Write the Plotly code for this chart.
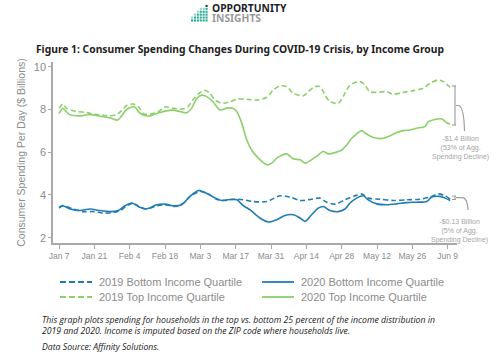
import pandas as pd
import plotly.graph_objects as go

# ---------------- data (values in $ billions; x = days since Jan 7, 2020) ----------------
start_date = "2020-01-07"

days_top_2020 = [0, 1.5, 4, 9, 12, 14, 18, 20.5, 23, 24.5, 26.5, 28, 30, 31.5, 33.5, 36, 38.5, 42, 45, 48,
                 50.5, 52.5, 54.5, 56.5, 58.5, 61, 63.8, 66.4, 69, 70.4, 72.4, 74.4, 76.3, 79, 82.3, 84.3,
                 86.3, 90.2, 92.8, 95.5, 97.5, 100, 102, 104.7, 106.7, 109.4, 112, 114, 116, 118, 120, 121,
                 123.2, 125.9, 128.5, 131, 133.8, 136.4, 139, 141.7, 145, 146.3, 148.3, 151.6, 153.6, 155]
top_2020 = [7.81, 8.05, 7.77, 7.70, 7.77, 7.73, 7.65, 7.60, 7.50, 7.65, 7.97, 8.08, 8.12, 7.90, 7.73, 7.70,
            7.80, 7.92, 7.97, 7.90, 7.84, 8.05, 8.50, 8.67, 8.60, 8.36, 7.98, 8.06, 8.06, 7.90, 7.36, 6.57,
            6.10, 5.72, 5.41, 5.49, 5.72, 5.92, 5.69, 5.64, 5.49, 5.64, 5.80, 6.03, 5.92, 5.98, 6.10, 6.34,
            6.65, 6.86, 7.01, 6.92, 6.76, 6.65, 6.65, 6.76, 6.92, 7.01, 7.04, 7.12, 7.20, 7.43, 7.51, 7.56,
            7.38, 7.32]

days_top_2019 = [0, 1.5, 3, 7, 11, 14, 17.5, 20, 23, 25, 27, 29.5, 31.5, 33.5, 36, 39.5, 42, 45.5, 49, 51,
                 53, 55.5, 57.5, 59.8, 61.8, 65, 67.7, 70.4, 74.4, 78.3, 82.3, 84.9, 87.6, 90.2, 92.8, 96.8,
                 98.8, 101, 103.4, 105.4, 107.4, 110.7, 112.6, 115.3, 119.3, 121.2, 123.2, 125.9, 129.8,
                 132.5, 136.4, 140.4, 144.3, 147, 150.3, 152.3, 155]
top_2019 = [8.05, 8.25, 8.05, 7.90, 7.86, 7.77, 7.73, 7.70, 7.77, 7.97, 8.20, 8.25, 8.12, 7.80, 7.77, 7.90,
            8.12, 8.05, 8.02, 8.12, 8.44, 8.75, 8.90, 8.76, 8.44, 8.29, 8.36, 8.48, 8.48, 8.44, 8.57, 8.91,
            9.10, 9.07, 8.76, 8.64, 8.83, 9.05, 9.07, 8.68, 8.36, 8.29, 8.60, 9.14, 9.30, 9.14, 8.83, 8.80,
            8.83, 8.71, 8.80, 8.88, 8.99, 9.22, 9.38, 9.30, 9.04]

days_bottom_2020 = [0, 1.5, 4.4, 8.3, 12.3, 16.2, 20.2, 23.5, 26.1, 28.8, 31.4, 34.7, 38.7, 42, 45.3, 48.6,
                    51.9, 55.2, 57.8, 61.1, 64.5, 68.4, 70.5, 73, 75.7, 79.6, 82.9, 86.3, 89.5, 92.8, 95.5,
                    97.5, 100.1, 102.7, 104.7, 107.4, 110.7, 113.3, 115.3, 117.9, 120.6, 122.5, 125.9, 129.8,
                    133.8, 137.8, 141.7, 145.7, 147.7, 151, 153, 155]
bottom_2020 = [3.38, 3.49, 3.34, 3.27, 3.34, 3.27, 3.22, 3.27, 3.49, 3.62, 3.46, 3.35, 3.54, 3.57, 3.49, 3.54,
               3.93, 4.21, 4.11, 3.90, 3.74, 3.80, 3.77, 3.50, 3.30, 2.92, 2.73, 2.84, 3.04, 3.07, 2.92, 2.76,
               3.07, 3.38, 3.46, 3.27, 3.22, 3.34, 3.62, 3.85, 3.96, 3.77, 3.58, 3.54, 3.58, 3.64, 3.66, 3.69,
               3.90, 3.93, 3.85, 3.74]

days_bottom_2019 = [0, 1.5, 5.7, 9.6, 13.6, 17.6, 21.5, 24.2, 26.8, 29.4, 32.1, 34.7, 38.7, 42, 46, 49.3,
                    51.9, 55.9, 59.1, 62.4, 65.7, 69.7, 73, 77, 82.3, 87.6, 91.5, 95.5, 100.1, 103.4, 106.1,
                    109.4, 113.3, 117.3, 119.9, 122.5, 127.2, 132.5, 137.8, 143, 147, 150.3, 153, 155]
bottom_2019 = [3.42, 3.50, 3.34, 3.22, 3.22, 3.15, 3.18, 3.27, 3.49, 3.62, 3.42, 3.34, 3.49, 3.54, 3.46, 3.62,
               3.93, 4.16, 4.05, 3.80, 3.74, 3.80, 3.77, 3.69, 3.69, 3.96, 3.90, 3.74, 3.80, 3.85, 3.66, 3.57,
               3.77, 3.96, 4.05, 3.85, 3.80, 3.74, 3.77, 3.80, 3.90, 4.05, 3.96, 3.80]

tick_dates = ["2020-01-07", "2020-01-21", "2020-02-04", "2020-02-18", "2020-03-03", "2020-03-17",
              "2020-03-31", "2020-04-14", "2020-04-28", "2020-05-12", "2020-05-26", "2020-06-09"]
tick_labels = ["Jan 7", "Jan 21", "Feb 4", "Feb 18", "Mar 3", "Mar 17",
               "Mar 31", "Apr 14", "Apr 28", "May 12", "May 26", "Jun 9"]
y_ticks = [2, 4, 6, 8, 10]

series_names = ["2019 Bottom Income Quartile", "2020 Bottom Income Quartile",
                "2019 Top Income Quartile", "2020 Top Income Quartile"]

# ---------------- styling ----------------
GREEN = "#8BD06A"
BLUE = "#1F7DB4"
GREY_TXT = "#8c8c8c"
AXIS = "#a9a9a9"
SANS = "Liberation Sans, Arial, sans-serif"
W, H = 500, 355
ML, MR, MT, MB = 53, 43, 62, 112

t0 = pd.Timestamp(start_date)


def to_dates(days):
    return [t0 + pd.Timedelta(days=d) for d in days]


def px(x):  # pixel -> paper x
    return (x - ML) / (W - ML - MR)


def py(y):  # pixel -> paper y
    return (H - MB - y) / (H - MT - MB)


fig = go.Figure()
series = [
    (days_bottom_2019, bottom_2019, BLUE, "5px,3px", series_names[0]),
    (days_top_2019, top_2019, GREEN, "5px,3px", series_names[2]),
    (days_bottom_2020, bottom_2020, BLUE, "solid", series_names[1]),
    (days_top_2020, top_2020, GREEN, "solid", series_names[3]),
]
for d, v, c, dash, name in series:
    fig.add_trace(go.Scatter(x=to_dates(d), y=v, mode="lines", name=name,
                             line=dict(color=c, width=1.6, dash=dash, shape="spline", smoothing=0.8),
                             showlegend=False, hoverinfo="x+y"))

x_lo = t0 - pd.Timedelta(days=2.4)
x_hi = t0 + pd.Timedelta(days=157.7)

fig.update_layout(
    width=W, height=H, autosize=False,
    margin=dict(l=ML, r=MR, t=MT, b=MB),
    paper_bgcolor="white", plot_bgcolor="white",
    font=dict(family=SANS, color=GREY_TXT),
    xaxis=dict(range=[x_lo, x_hi], tickvals=pd.to_datetime(tick_dates), ticktext=tick_labels,
               showgrid=False, zeroline=False, showline=True, linecolor=AXIS, linewidth=1.5,
               ticks="outside", ticklen=4, tickcolor=AXIS, tickwidth=1,
               tickfont=dict(size=8.5, color=GREY_TXT, family=SANS)),
    yaxis=dict(range=[1.75, 10.22], tickvals=y_ticks, showgrid=False, zeroline=False,
               showline=True, linecolor=AXIS, linewidth=1.5, ticks="outside", ticklen=3,
               tickcolor=AXIS, tickfont=dict(size=11, color=GREY_TXT, family=SANS),
               title=dict(text="Consumer Spending Per Day ($ Billions)",
                          font=dict(size=10.5, color=GREY_TXT, family=SANS), standoff=6)),
    title=dict(text="<b>Figure 1: Consumer Spending Changes During COVID-19 Crisis, by Income Group</b>",
               x=240 / W, xanchor="center", y=1 - 49 / H, yanchor="middle",
               font=dict(size=10.3, color="#222222", family="Noto Sans, sans-serif")),
)

shapes = []
annots = []

# ---- legend (drawn manually, two columns) ----
legend_pos = [(60, 282), (262, 282), (60, 297), (262, 297)]
legend_style = [(BLUE, "6px,3px"), (BLUE, "solid"), (GREEN, "6px,3px"), (GREEN, "solid")]
for (lx, ly), (c, dash), name in zip(legend_pos, legend_style, series_names):
    shapes.append(dict(type="line", xref="paper", yref="paper", x0=px(lx), x1=px(lx + 32),
                       y0=py(ly), y1=py(ly), line=dict(color=c, width=1.8, dash=dash)))
    annots.append(dict(text=name, xref="paper", yref="paper", x=px(lx + 37), y=py(ly),
                       xanchor="left", yanchor="middle", showarrow=False,
                       font=dict(size=11, color=GREY_TXT, family=SANS)))

# ---- decline brackets ----
BR = "#a0a0a0"
shapes += [
    dict(type="line", xref="paper", yref="paper", x0=px(455), x1=px(455), y0=py(86), y1=py(125),
         line=dict(color=BR, width=1.2)),
    dict(type="line", xref="paper", yref="paper", x0=px(452), x1=px(456), y0=py(86), y1=py(86),
         line=dict(color=BR, width=1.2)),
    dict(type="line", xref="paper", yref="paper", x0=px(452), x1=px(456), y0=py(125), y1=py(125),
         line=dict(color=BR, width=1.2)),
    dict(type="path", xref="paper", yref="paper",
         path=f"M {px(456)},{py(105.5)} L {px(459)},{py(105.5)} Q {px(464)},{py(108)} {px(464.5)},{py(131)}",
         line=dict(color=BR, width=1.2)),
]
shapes += [
    dict(type="line", xref="paper", yref="paper", x0=px(455), x1=px(455), y0=py(196), y1=py(199.5),
         line=dict(color=BR, width=1.2)),
    dict(type="line", xref="paper", yref="paper", x0=px(452), x1=px(456), y0=py(196), y1=py(196),
         line=dict(color=BR, width=1.0)),
    dict(type="line", xref="paper", yref="paper", x0=px(452), x1=px(456), y0=py(199.5), y1=py(199.5),
         line=dict(color=BR, width=1.0)),
    dict(type="path", xref="paper", yref="paper",
         path=f"M {px(456)},{py(197.7)} L {px(463)},{py(197.7)} Q {px(467.5)},{py(199)} {px(468)},{py(210)}",
         line=dict(color=BR, width=1.2)),
]
annots += [
    dict(text="-$1.4 Billion<br>(53% of Agg.<br>Spending Decline)", xref="paper", yref="paper",
         x=px(460), y=py(133), xanchor="center", yanchor="top", showarrow=False, align="center",
         font=dict(size=7, color="#a6a6a6", family=SANS)),
    dict(text="-$0.13 Billion<br>(5% of Agg.<br>Spending Decline)", xref="paper", yref="paper",
         x=px(459), y=py(215.5), xanchor="center", yanchor="top", showarrow=False, align="center",
         font=dict(size=7, color="#a6a6a6", family=SANS)),
]

# ---- logo ----
annots += [
    dict(text="<b>OPPORTUNITY</b>", xref="paper", yref="paper", x=px(210), y=py(8),
         xanchor="left", yanchor="middle", showarrow=False,
         font=dict(size=10.3, color="#1e1e2a", family="Noto Sans, sans-serif")),
    dict(text="<b>INSIGHTS</b>", xref="paper", yref="paper", x=px(210), y=py(18),
         xanchor="left", yanchor="middle", showarrow=False,
         font=dict(size=10.3, color="#9a9a9a", family="Noto Sans, sans-serif")),
]
col_heights = [2, 3, 4, 5, 5, 6]
for ci, hgt in enumerate(col_heights):
    for ri in range(hgt):
        x0 = 191 + ci * 2.9
        y1 = 21.5 - ri * 2.9
        top = (ri == hgt - 1)
        color = "#1b3a4b" if (ci == len(col_heights) - 1 and top) else ("#8fd6c8" if top else "#2aa892")
        shapes.append(dict(type="rect", xref="paper", yref="paper", x0=px(x0), x1=px(x0 + 2.1),
                           y0=py(y1), y1=py(y1 - 2.1), line=dict(width=0), fillcolor=color))

# ---- caption ----
CAP = dict(size=8.7, color="#222222", family="Open Sans, sans-serif")
annots += [
    dict(text="<i>This graph plots spending for households in the top vs. bottom 25 percent of the income distribution in</i>",
         xref="paper", yref="paper", x=px(40), y=py(320), xanchor="left", yanchor="middle",
         showarrow=False, font=CAP),
    dict(text="<i>2019 and 2020. Income is imputed based on the ZIP code where households live.</i>",
         xref="paper", yref="paper", x=px(40), y=py(331), xanchor="left", yanchor="middle",
         showarrow=False, font=CAP),
    dict(text="<i>Data Source: Affinity Solutions.</i>",
         xref="paper", yref="paper", x=px(40), y=py(347), xanchor="left", yanchor="middle",
         showarrow=False, font=CAP),
]

fig.update_layout(shapes=shapes, annotations=annots)
fig.write_html("out.html", config={"displayModeBar": False},
               post_script="document.body.style.margin='0';")
